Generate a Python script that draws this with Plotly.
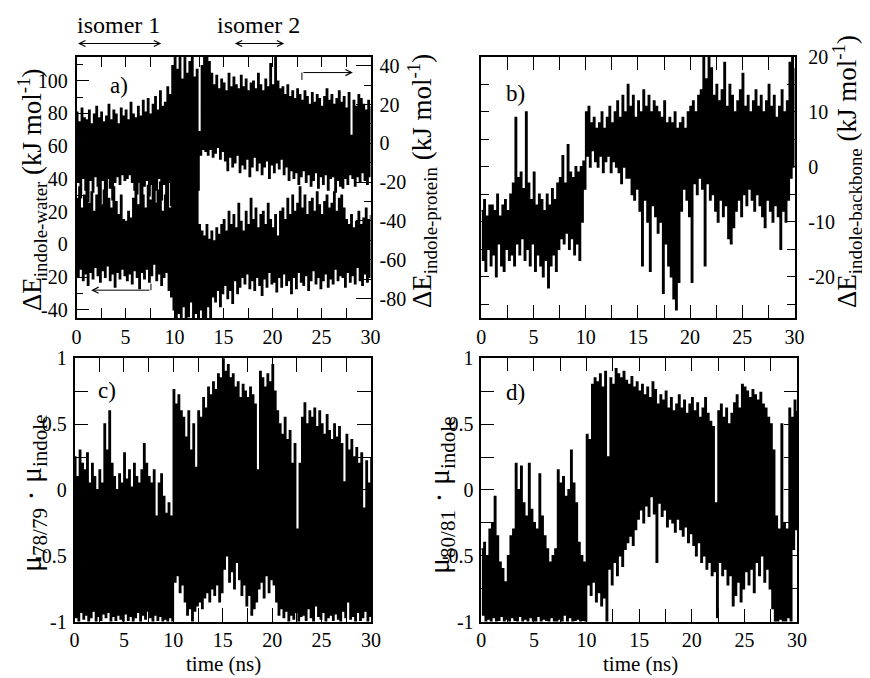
import numpy as np
import plotly.graph_objects as go

# the page shows the figure 8 px in from the top-left corner (body margin),
# so the figure is made 8 px smaller and every pixel position is shifted.
PAGE_W, PAGE_H, OFF = 870, 678, 8
W, H = PAGE_W - OFF, PAGE_H - OFF
FONT = "Liberation Serif, Tinos, Times New Roman, DejaVu Serif, serif"

# ---------------- data ----------------
# Each trace is stored as upper-edge samples (hi, at t = 0, 0.25, ... 30 ns)
# and lower-edge samples (lo, at t = 0.125, 0.375, ... 29.875 ns).
time_step = 0.125  # ns between consecutive samples

x_tickvals = [0, 5, 10, 15, 20, 25, 30]
x_ticktext = ["0", "5", "10", "15", "20", "25", "30"]

# panel a) lower band: Delta E indole-water (left axis, kJ/mol)
water_hi = [
    28, 35, 22, 30,  38, 25, 32, 20,  30, 36, 24, 33,  40, 28, 22, 35,
    26, 18, 30, 15,  14, 20, 16, 28,  35, 24, 38, 30,  22, 36, 27, 40,
    25, 33, 38, 20,  30, 42, 22, 60,  45, 40, 50, 38,  42, 48, 36, 44,
    40, 46, 12, 8,   5, 12, 3, 8,     2, 10, 6, 12,    15, 8, 20, 12,
    18, 10, 25, 14,  8, 20, 12, 28,   15, 22, 10, 18,  20, 12, 25, 15,
    10, 18, 5, 20,   22, 15, 28, 18,  30, 20, 25, 35,  22, 30, 18, 26,
    28, 20, 32, 24,  18, 26, 30, 22,  25, 32, 20, 28,  30, 22, 15, 12,
    18, 10, 14, 20,  12, 16, 22, 15,  18,
]
water_lo = [
    -20, -15, -22, -18,  -25, -17, -21, -14,  -19, -23, -16, -20,  -13, -22, -18, -26,
    -17, -21, -15, -19,  -22, -18, -24, -16,  -20, -27, -17, -21,  -15, -23, -19, -12,
    -22, -18, -25, -20,  -17, -28, -32, -40,  -46, -42, -46, -38,  -46, -44, -35, -46,
    -42, -46, -40, -46,  -45, -38, -46, -32,  -35, -28, -38, -30,  -25, -33, -28, -36,
    -22, -30, -26, -20,  -24, -18, -27, -22,  -28, -20, -25, -31,  -21, -26, -17, -24,
    -23, -29, -20, -26,  -18, -25, -22, -30,  -20, -27, -17, -23,  -25, -19, -28, -22,
    -16, -24, -20, -27,  -22, -18, -26, -21,  -24, -15, -22, -19,  -20, -26, -17, -23,
    -19, -24, -14, -22,  -25, -18, -23, -20,
]

# panel a) upper band: Delta E indole-protein (right axis, kJ/mol)
protein_hi = [
    16, 11, 18, 13,  12, 17, 10, 15,  19, 13, 16, 11,  14, 20, 12, 17,
    15, 10, 18, 14,  17, 12, 21, 15,  13, 19, 14, 22,  16, 23, 15, 20,
    24, 17, 27, 19,  21, 29, 25, 40,  45, 38, 45, 33,  45, 36, 42, 45,
    34, 38, 6, 40,   45, 45, 42, 36,  30, 35, 28, 33,  31, 27, 36, 29,
    34, 30, 28, 35,  29, 33, 27, 31,  32, 28, 36, 30,  27, 33, 29, 41,
    30, 45, 32, 28,  29, 25, 30, 24,  27, 23, 28, 25,  22, 27, 24, 20,
    26, 21, 25, 23,  19, 24, 28, 22,  25, 20, 23, 27,  21, 24, 18, 26,
    4, 22, 19, 25,   23, 20, 17, 22,  19,
]
protein_lo = [
    -20, -28, -18, -24,  -30, -19, -25, -17,  -22, -31, -19, -27,  -18, -23, -29, -20,
    -17, -21, -16, -19,  -18, -16, -20, -24,  -26, -20, -30, -22,  -19, -27, -21, -31,
    -24, -18, -29, -21,  -27, -20, -32, -24,  -26, -30, -22, -33,  -28, -24, -34, -27,
    -30, -24, -6, -3,    -4, -6, -3, -7,      -5, -2, -8, -4,      -9, -14, -7, -12,
    -10, -6, -15, -11,   -13, -8, -17, -12,   -7, -14, -10, -16,   -12, -9, -18, -11,
    -15, -10, -13, -8,   -16, -12, -19, -14,  -18, -15, -21, -17,  -14, -20, -16, -22,
    -19, -15, -23, -17,  -21, -16, -24, -18,  -17, -25, -19, -22,  -23, -18, -21, -16,
    -18, -22, -17, -20,  -15, -19, -21, -17,
]

# panel b) Delta E indole-backbone (kJ/mol)
backbone_hi = [
    -8, -6, -9, -7,  -7, -8, -5, -9,  -7, -6, -8, -5,  -3, 9, -2, -1,
    -4, 10, -3, -6,  -1, -7, -5, -6,  -8, -5, -7, -4,  -6, -3, -2, 2,
    -3, 4, -1, -2,   0, -1, 0, 1,     10, 11, 8, 9,    7, 8, 10, 7,
    9, 11, 8, 10,    12, 9, 13, 10,   15, 11, 13, 9,   12, 10, 14, 11,
    13, 10, 12, 11,  10, 9, 12, 8,    9, 8, 10, 7,     8, 9, 7, 10,
    11, 12, 10, 13,  14, 20, 16, 20,  18, 13, 15, 12,  14, 19, 11, 15,
    13, 10, 12, 14,  17, 11, 13, 10,  12, 14, 11, 13,  10, 12, 15, 11,
    13, 9, 11, 14,   10, 12, 19, 20,  18,
]
backbone_lo = [
    -17, -19, -15, -18,  -16, -20, -14, -18,  -19, -15, -17, -16,  -18, -14, -16, -13,
    -17, -15, -18, -14,  -19, -16, -18, -20,  -17, -22, -18, -16,  -19, -15, -13, -14,
    -12, -15, -13, -16,  -14, -17, -10, -4,   2, 0, 3, 1,          0, 2, -1, 1,
    2, -1, 1, 0,         -1, -3, 0, -2,       -2, -5, -6, -4,      -8, -18, -6, -10,
    -19, -7, -9, -12,    -10, -23, -14, -18,  -20, -24, -26, -21,  -8, -4, -6, -9,
    -21, -3, -5, -2,     -4, -18, -3, -6,     -5, -8, -10, -6,     -9, -7, -13, -14,
    -11, -8, -6, -9,     -5, -7, -4, -6,      -8, -5, -7, -9,      -11, -6, -8, -10,
    -7, -9, -15, -8,     -10, -6, -2, 0,
]

# panel c) mu_78/79 . mu_indole
mu7879_hi = [
    0.25, 0.10, 0.30, 0.20,  0.15, 0.28, 0.05, 0.20,  0.10, 0.00, 0.15, 0.05,
    0.50, 0.30, 0.60, 0.20,  0.10, 0.00, 0.12, 0.05,  0.28, 0.08, 0.15, 0.02,
    0.20, 0.10, 0.05, 0.15,  0.35, 0.20, 0.10, 0.05,  0.15, -0.20, 0.05, 0.12,
    -0.05, -0.18, -0.10, -0.20,  0.76, 0.65, 0.72, 0.60,  0.55, 0.40, 0.60, 0.30,
    0.50, 0.17, 0.60, 0.55,  0.70, 0.62, 0.78, 0.72,  0.82, 0.76, 0.88, 0.85,
    1.00, 0.90, 0.95, 0.85,  0.88, 0.78, 0.82, 0.70,  0.80, 0.75, 0.70, 0.78,
    0.72, 0.65, 0.15, 0.90,  0.85, 0.78, 0.88, 0.82,  0.95, 0.75, 0.60, 0.50,
    0.42, 0.55, 0.38, 0.45,  0.20, 0.35, -0.30, 0.20,  0.55, 0.66, 0.50, 0.60,
    0.55, 0.62, 0.48, 0.60,  0.50, 0.42, 0.57, 0.45,  0.38, 0.50, 0.40, 0.48,
    0.35, 0.06, 0.42, 0.30,  0.38, 0.25, 0.32, 0.20,  0.28, -0.14, 0.22, 0.05,
    0.25,
]
mu7879_lo = [
    -0.97, -1.00, -0.93, -0.98,  -0.95, -1.00, -0.97, -0.92,  -1.00, -0.96, -0.99, -0.94,
    -0.97, -0.93, -1.00, -0.96,  -0.99, -0.95, -0.98, -1.00,  -0.94, -0.99, -0.96, -1.00,
    -0.97, -0.93, -1.00, -0.95,  -0.98, -0.92, -0.97, -1.00,  -0.95, -0.99, -0.96, -1.00,
    -0.98, -1.00, -0.97, -1.00,  -0.70, -0.65, -0.78, -0.72,  -0.85, -0.95, -0.90, -1.00,
    -0.92, -0.88, -0.85, -0.90,  -0.82, -0.78, -0.85, -0.75,  -0.80, -0.72, -0.85, -0.78,
    -0.60, -0.50, -0.70, -0.62,  -0.75, -0.55, -0.68, -0.80,  -0.72, -0.88, -0.80, -0.95,
    -0.90, -0.85, -0.75, -0.70,  -0.82, -0.65, -0.78, -0.68,  -0.72, -0.85, -0.95, -0.90,
    -0.97, -0.92, -1.00, -0.95,  -0.98, -0.93, -1.00, -0.96,  -0.95, -0.99, -0.90, -0.97,
    -1.00, -0.88, -0.96, -0.98,  -0.93, -1.00, -0.97, -0.95,  -0.99, -0.94, -0.98, -1.00,
    -0.92, -0.97, -0.85, -0.98,  -0.96, -1.00, -0.93, -0.99,  -0.97, -0.92, -1.00, -0.96,
]

# panel d) mu_80/81 . mu_indole
mu8081_hi = [
    -0.45, -0.40, -0.50, -0.30,  -0.25, -0.05, -0.35, -0.55,  -0.60, -0.70, -0.50, -0.35,
    -0.30, 0.20, 0.00, 0.18,     -0.10, -0.20, 0.20, -0.15,   -0.25, -0.30, 0.12, -0.20,
    -0.35, -0.45, -0.55, -0.50,  -0.45, 0.15, 0.05, 0.10,     -0.05, 0.00, 0.30, 0.05,
    -0.10, -0.40, -0.50, -0.55,  0.42, 0.38, 0.80, 0.85,      0.82, 0.88, 0.78, 0.90,
    0.25, 0.85, 0.80, 0.92,      0.88, 0.85, 0.90, 0.83,      0.80, 0.86, 0.78, 0.82,
    0.75, 0.80, 0.72, 0.78,      0.70, 0.82, 0.76, 0.65,      0.72, 0.68, 0.75, 0.62,
    0.70, 0.60, 0.65, 0.72,      0.62, 0.68, 0.58, 0.65,      0.70, 0.60, 0.66, 0.55,
    0.62, 0.70, 0.58, 0.52,      0.48, -0.10, 0.60, 0.65,     0.55, 0.62, 0.50, 0.58,
    0.66, 0.72, 0.62, 0.80,      0.78, 0.75, 0.70, 0.76,      0.72, 0.68, 0.74, 0.65,
    0.62, 0.55, 0.50, 0.30,      -0.20, -0.30, 0.50, -0.25,   -0.30, 0.62, 0.55, 0.68,
    0.60,
]
mu8081_lo = [
    -0.95, -1.00, -0.98, -1.00,  -0.97, -1.00, -0.99, -0.96,  -1.00, -0.98, -1.00, -0.97,
    -0.99, -1.00, -0.96, -1.00,  -0.98, -1.00, -0.97, -1.00,  -1.00, -0.96, -1.00, -0.98,
    -0.99, -1.00, -0.97, -1.00,  -1.00, -0.98, -1.00, -0.95,  -1.00, -0.97, -1.00, -0.99,
    -0.98, -1.00, -0.99, -1.00,  -0.72, -0.80, -0.70, -0.85,  -0.78, -0.88, -0.82, -1.00,
    -0.60, -0.72, -0.55, -0.65,  -0.50, -0.58, -0.45, -0.40,  -0.35, -0.42, -0.30, -0.22,
    -0.15, -0.25, -0.12, -0.20,  -0.05, -0.18, -0.55, -0.10,  -0.20, -0.15, -0.28, -0.22,
    -0.25, -0.32, -0.22, -0.30,  -0.35, -0.28, -0.40, -0.33,  -0.42, -0.50, -0.40, -0.55,
    -0.50, -0.60, -0.55, -0.65,  -0.62, -0.97, -0.55, -0.65,  -0.60, -0.72, -0.65, -0.88,
    -0.80, -0.70, -0.85, -0.75,  -0.62, -0.72, -0.60, -0.78,  -0.55, -0.65, -0.50, -0.70,
    -0.60, -0.75, -0.90, -1.00,  -1.00, -0.98, -1.00, -1.00,  -0.97, -1.00, -0.45, -0.30,
]

# annotation data
isomer_labels = ["isomer 1", "isomer 2"]
isomer_ranges = [(0.0, 8.65), (16.0, 21.2)]


def zigzag(hi, lo):
    y = np.empty(len(hi) + len(lo))
    y[0::2] = hi
    y[1::2] = lo
    x = np.arange(len(y)) * time_step
    return x, y


def px_x(p):
    return (p - OFF) / W


def px_y(p):
    return 1 - (p - OFF) / H


fig = go.Figure()
line = dict(color="black", width=1.6, shape="hv", simplify=False)
for hi, lo, xa, ya in [
    (water_hi, water_lo, "x", "y"),
    (protein_hi, protein_lo, "x", "y2"),
    (backbone_hi, backbone_lo, "x2", "y3"),
    (mu7879_hi, mu7879_lo, "x3", "y4"),
    (mu8081_hi, mu8081_lo, "x4", "y5"),
]:
    xs, ys = zigzag(hi, lo)
    fig.add_trace(go.Scatter(x=xs, y=ys, mode="lines", line=line,
                             xaxis=xa, yaxis=ya, showlegend=False,
                             hoverinfo="skip"))

tickfont = dict(family=FONT, size=20, color="black")
base = dict(showline=True, linecolor="black", linewidth=1.5, ticks="inside",
            tickcolor="black", tickwidth=1.2, showgrid=False, zeroline=False,
            tickfont=tickfont, automargin=False)


def xaxis(dom, anchor, ticklen):
    return dict(base, domain=dom, anchor=anchor, range=[0, 30],
                tickvals=x_tickvals, ticktext=x_ticktext, ticklen=ticklen,
                mirror="allticks", ticklabelstandoff=0,
                minor=dict(dtick=2.5, tick0=0, ticks="inside", ticklen=ticklen,
                           tickcolor="black", tickwidth=1.2))


ya_vals = [-40, -20, 0, 20, 40, 60, 80, 100]
yb_vals = [-80, -60, -40, -20, 0, 20, 40]
yB_vals = [-20, -10, 0, 10, 20]
mu_vals = [-1, -0.5, 0, 0.5, 1]
mu_text = ["-1", "-0.5", "0", "0.5", "1"]

top_dom = [px_y(318), px_y(57)]
bot_dom = [px_y(621.5), px_y(358.3)]

fig.update_layout(
    width=W, height=H, margin=dict(l=0, r=0, t=0, b=0, pad=0, autoexpand=False),
    paper_bgcolor="white", plot_bgcolor="white",
    xaxis=xaxis([px_x(76.5), px_x(370.5)], "y", 10),
    yaxis=dict(base, domain=top_dom, anchor="x", range=[-45, 114.5],
               tickvals=ya_vals, ticktext=[str(v) for v in ya_vals],
               ticklen=13, mirror=True, ticklabelstandoff=3,
               minor=dict(dtick=10, tick0=0, ticks="inside", ticklen=7,
                          tickcolor="black", tickwidth=1.2)),
    yaxis2=dict(base, domain=top_dom, anchor="x", overlaying="y", side="right",
                range=[-90, 44.5], showline=False,
                tickvals=yb_vals, ticktext=[str(v) for v in yb_vals],
                ticklen=15, ticklabelstandoff=8,
                minor=dict(dtick=10, tick0=0, ticks="inside", ticklen=7,
                           tickcolor="black", tickwidth=1.2)),
    xaxis2=xaxis([px_x(481.3), px_x(794.5)], "y3", 13),
    yaxis3=dict(base, domain=top_dom, anchor="x2", side="right",
                range=[-27.5, 20], tickvals=yB_vals,
                ticktext=[str(v) for v in yB_vals], ticklen=8,
                mirror="allticks", ticklabelstandoff=8,
                minor=dict(dtick=5, tick0=0, ticks="inside", ticklen=8,
                           tickcolor="black", tickwidth=1.2)),
    xaxis3=xaxis([px_x(74.5), px_x(371)], "y4", 14),
    yaxis4=dict(base, domain=bot_dom, anchor="x3", range=[-1, 1],
                tickvals=mu_vals, ticktext=mu_text, ticklen=14,
                mirror="allticks", ticklabelstandoff=2,
                minor=dict(dtick=0.25, tick0=0, ticks="inside", ticklen=14,
                           tickcolor="black", tickwidth=1.2)),
    xaxis4=xaxis([px_x(481.3), px_x(797)], "y5", 13),
    yaxis5=dict(base, domain=bot_dom, anchor="x4", range=[-1, 1],
                tickvals=mu_vals, ticktext=mu_text, ticklen=13,
                mirror="allticks", ticklabelstandoff=2,
                minor=dict(dtick=0.25, tick0=0, ticks="inside", ticklen=13,
                           tickcolor="black", tickwidth=1.2)),
)

ann = []
# y-axis titles
for txt, xp, yp, fs in [
    ("ΔE<sub>indole-water</sub> (kJ mol<sup>-1</sup>)", 32, 190, 27),
    ("ΔE<sub>indole-protein</sub> (kJ mol<sup>-1</sup>)", 422, 181, 27),
    ("ΔE<sub>indole-backbone</sub> (kJ mol<sup>-1</sup>)", 847, 172, 27),
    ("μ<sub>78/79</sub> · μ<sub>indole</sub>", 33, 493, 30),
    ("μ<sub>80/81</sub> · μ<sub>indole</sub>", 441, 495, 30),
]:
    ann.append(dict(text=txt, x=px_x(xp), y=px_y(yp), xref="paper", yref="paper",
                    textangle=-90, showarrow=False,
                    font=dict(family=FONT, size=fs, color="black"),
                    xanchor="center", yanchor="middle"))
# x-axis titles
for xp in (223, 640):
    ann.append(dict(text="time (ns)", x=px_x(xp), y=px_y(664), xref="paper",
                    yref="paper", showarrow=False,
                    font=dict(family=FONT, size=21, color="black"),
                    xanchor="center", yanchor="middle"))
# panel letters
for txt, xp, yp in [("a)", 119, 85), ("b)", 516, 93), ("c)", 107, 390), ("d)", 516, 392)]:
    ann.append(dict(text=txt, x=px_x(xp), y=px_y(yp), xref="paper", yref="paper",
                    showarrow=False, font=dict(family=FONT, size=23, color="black"),
                    xanchor="center", yanchor="middle"))
# isomer labels and double arrows
for lab, (t0, t1) in zip(isomer_labels, isomer_ranges):
    ann.append(dict(text=lab, x=(t0 + t1) / 2, xref="x", y=px_y(25), yref="paper",
                    showarrow=False, font=dict(family=FONT, size=24, color="black"),
                    xanchor="center", yanchor="middle"))
    ann.append(dict(text="", x=t1, xref="x", y=px_y(43.5), yref="paper",
                    ax=t0, axref="x", ay=0, ayref="pixel", showarrow=True,
                    arrowhead=5, startarrowhead=5, arrowside="end+start",
                    arrowsize=1.2, startarrowsize=1.2, arrowwidth=1, arrowcolor="black"))
# axis-association arrows in panel a
ann.append(dict(text="", x=28.2, y=105, xref="x", yref="y", ax=23, ay=105,
                axref="x", ayref="y", showarrow=True, arrowhead=5, arrowsize=1.2,
                arrowwidth=1, arrowcolor="black"))
ann.append(dict(text="", x=1.5, y=-28, xref="x", yref="y", ax=7.6, ay=-28,
                axref="x", ayref="y", showarrow=True, arrowhead=5, arrowsize=1.2,
                arrowwidth=1, arrowcolor="black"))
fig.update_layout(annotations=ann)

fig.add_shape(type="line", xref="x", yref="y", x0=23, x1=23, y0=105, y1=100.5,
              line=dict(color="black", width=1))
fig.add_shape(type="line", xref="x", yref="y", x0=7.6, x1=7.6, y0=-28, y1=-24,
              line=dict(color="black", width=1))

fig.write_html("out.html")
